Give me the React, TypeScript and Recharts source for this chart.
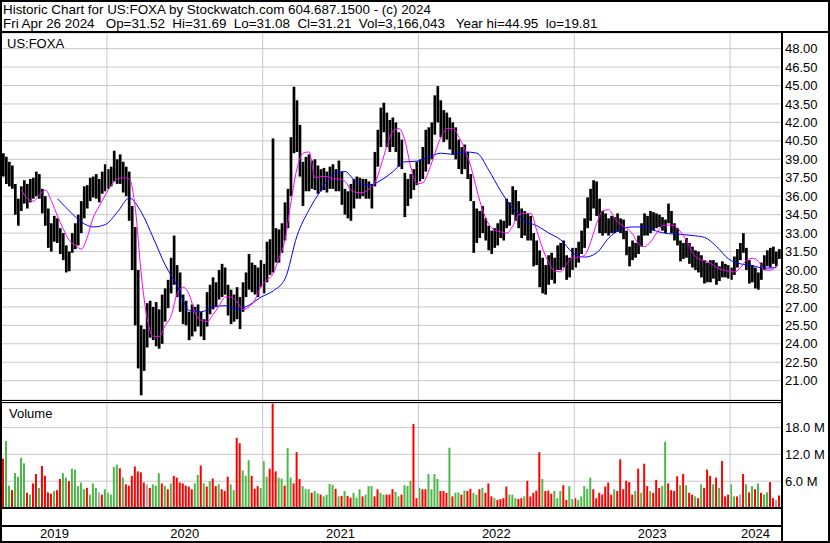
import {
  Bar,
  CartesianGrid,
  Cell,
  ComposedChart,
  Line,
  ReferenceLine,
  XAxis,
  YAxis,
} from "recharts";

// One row per trading week (weekly high / low).
const yearLabels = ["2019", "2020", "2021", "2022", "2023", "2024"];
const yearStarts = [0, 35, 87, 139, 191, 243];
const WEEKS = 260;

const high2019 = [39.5, 39.2, 38.8, 38.5, 37.0, 35.8, 36.8, 37.3, 37.0, 37.4, 37.5, 38.0, 37.8, 36.6, 36.0, 35.0, 33.8, 34.4, 34.2, 33.4, 33.0, 32.0, 31.5, 33.0, 33.8, 34.5, 35.6, 36.8, 36.9, 37.5, 37.6, 37.8, 37.4, 38.0, 38.6];
const low2019 = [37.6, 37.0, 36.8, 36.6, 34.5, 33.6, 34.8, 35.4, 35.0, 35.5, 35.8, 36.0, 35.8, 34.6, 33.6, 31.8, 31.5, 32.3, 32.2, 31.3, 30.8, 29.8, 29.9, 31.4, 31.7, 32.0, 33.0, 34.2, 35.0, 35.6, 35.9, 35.8, 35.5, 36.2, 36.4];
const high2020 = [38.2, 38.4, 39.7, 39.0, 39.4, 38.8, 38.4, 38.0, 35.2, 33.5, 30.0, 25.5, 25.2, 27.3, 27.5, 27.0, 27.4, 26.8, 28.0, 28.5, 29.2, 31.0, 32.8, 30.4, 29.8, 28.0, 27.5, 26.6, 27.2, 27.0, 27.2, 26.6, 26.0, 28.2, 28.8, 29.4, 29.0, 30.0, 30.5, 30.2, 28.8, 28.4, 28.0, 28.6, 27.8, 29.0, 29.8, 31.3, 30.6, 30.4, 30.2, 30.8];
const low2020 = [36.6, 36.8, 37.2, 37.0, 37.0, 36.3, 36.0, 34.0, 30.0, 25.5, 22.0, 19.81, 21.8, 23.7, 24.5, 24.3, 23.8, 23.6, 24.0, 25.8, 26.9, 28.1, 28.8, 27.8, 26.6, 25.6, 25.5, 24.3, 24.6, 25.0, 25.4, 24.6, 24.3, 25.4, 26.4, 26.8, 27.0, 27.6, 27.8, 28.0, 26.3, 25.6, 25.8, 26.0, 25.2, 26.6, 27.8, 28.4, 28.2, 28.0, 27.8, 28.6];
const high2021 = [30.5, 32.3, 32.5, 40.7, 33.4, 33.3, 33.8, 35.5, 36.6, 40.8, 44.9, 43.8, 41.8, 38.8, 39.2, 39.4, 38.9, 39.0, 38.5, 38.2, 38.3, 38.0, 38.4, 38.6, 38.2, 38.9, 38.0, 36.6, 36.4, 37.0, 37.4, 37.6, 37.5, 37.4, 37.4, 37.2, 37.0, 39.6, 41.4, 43.2, 43.6, 42.8, 42.2, 42.4, 42.0, 41.2, 40.6, 37.9, 37.4, 37.8, 38.2, 38.8];
const low2021 = [28.1, 29.0, 29.6, 29.8, 30.6, 30.6, 31.4, 32.4, 33.4, 36.0, 39.5, 39.6, 37.6, 35.2, 36.4, 36.4, 36.6, 36.5, 36.2, 36.4, 36.5, 36.3, 36.6, 36.6, 36.4, 36.4, 35.3, 34.5, 34.2, 34.0, 35.0, 35.8, 35.8, 36.0, 35.8, 35.8, 35.0, 36.8, 38.4, 40.0, 41.2, 40.0, 39.6, 40.0, 39.6, 38.4, 38.2, 34.3, 35.2, 35.8, 36.5, 36.9];
const high2022 = [39.0, 40.0, 41.4, 41.6, 42.0, 44.2, 44.95, 43.8, 43.0, 42.8, 42.4, 42.0, 41.6, 40.6, 40.0, 40.2, 39.6, 37.8, 35.6, 35.0, 34.8, 35.2, 34.2, 33.6, 33.2, 33.4, 33.8, 34.1, 34.0, 35.8, 35.5, 36.8, 36.5, 35.6, 35.0, 34.8, 34.6, 34.4, 33.0, 32.4, 31.6, 31.0, 30.4, 31.2, 31.4, 31.0, 32.0, 32.2, 32.4, 31.2, 31.0, 31.8];
const low2022 = [37.2, 37.4, 38.0, 38.6, 39.0, 41.0, 42.0, 40.8, 40.4, 40.6, 39.8, 39.4, 39.0, 38.2, 37.8, 38.2, 37.4, 35.6, 31.4, 32.2, 32.6, 33.0, 32.4, 31.6, 31.3, 31.8, 32.0, 32.6, 32.4, 33.4, 33.6, 34.5, 34.0, 33.4, 32.6, 32.8, 32.4, 32.4, 30.3, 30.4, 28.6, 28.1, 28.0, 28.8, 29.2, 28.9, 30.0, 30.0, 30.2, 29.2, 29.4, 30.0];
const high2023 = [31.8, 32.3, 33.2, 34.2, 35.9, 36.6, 37.3, 37.2, 35.8, 34.8, 34.6, 34.2, 34.4, 34.3, 34.6, 34.2, 34.1, 33.2, 31.9, 32.4, 32.2, 32.8, 33.8, 34.6, 34.4, 34.8, 34.7, 34.6, 34.5, 34.3, 34.1, 35.4, 34.8, 33.8, 33.4, 32.4, 32.2, 32.6, 32.2, 31.9, 31.6, 31.5, 31.2, 30.8, 30.6, 30.8, 30.8, 30.6, 30.3, 30.7, 30.5, 30.4];
const low2023 = [30.2, 30.6, 31.3, 31.8, 33.4, 34.0, 35.0, 34.4, 33.0, 32.8, 33.0, 32.8, 33.0, 33.0, 33.1, 33.0, 32.5, 31.2, 30.3, 30.8, 31.0, 31.3, 31.9, 32.8, 32.8, 33.0, 33.2, 33.4, 33.5, 33.2, 33.0, 33.8, 33.0, 32.4, 32.0, 30.7, 30.9, 31.0, 30.5, 30.2, 30.0, 29.8, 29.4, 28.9, 29.0, 29.0, 29.3, 28.8, 29.1, 29.4, 29.4, 29.3];
const high2024 = [30.2, 31.1, 31.7, 32.2, 33.0, 31.8, 30.8, 30.4, 30.2, 29.8, 30.6, 31.2, 31.6, 31.8, 31.9, 31.5, 31.7];
const low2024 = [29.2, 29.6, 30.2, 30.8, 31.4, 30.0, 28.9, 29.0, 28.5, 28.4, 29.2, 30.0, 30.3, 30.2, 30.5, 30.3, 30.9];

// magenta average, every 2nd week from week 6; blue average, every 4th week from week 18
const fastFrom = 6;
const fastAvg = [
  36.5, 35.8, 35.6, 36.1, 36.5, 35.6, 34.4, 33.3, 32.4, 32.0,
  31.7, 32.7, 34.3, 35.2, 36.1, 36.9, 37.4, 37.5, 37.4, 35.0,
  29.6, 26.0, 24.6, 24.6, 25.5, 26.3, 28.1, 28.6, 28.0, 26.5,
  25.9, 25.8, 26.4, 27.1, 27.8, 27.8, 27.4, 26.8, 27.0, 27.6,
  28.7, 29.2, 29.7, 31.0, 32.5, 35.6, 38.3, 39.5, 39.6, 37.5,
  37.6, 37.6, 37.4, 37.4, 37.2, 36.5, 36.3, 36.3, 36.6, 37.1,
  38.5, 40.1, 41.3, 41.5, 40.5, 38.3, 37.0, 37.1, 38.1, 39.5,
  40.8, 41.5, 41.5, 40.8, 39.8, 38.4, 36.5, 34.8, 33.7, 33.25,
  33.1, 33.0, 33.6, 34.5, 34.6, 34.6, 33.2, 31.7, 30.6, 29.9,
  29.85, 30.5, 31.0, 31.05, 31.2, 32.3, 33.8, 34.8, 34.9, 34.2,
  33.7, 33.4, 32.9, 32.1, 31.9, 32.3, 33.0, 33.6, 33.65, 33.6,
  33.1, 32.4, 31.4, 30.9, 30.75, 30.55, 30.2, 30.0, 29.9, 29.85,
  30.2, 30.8, 30.95, 30.7, 30.0, 30.0, 30.35,
];
const slowFrom = 18;
const slowAvg = [
  35.8, 34.8, 33.9, 33.5, 33.7, 34.7, 35.85, 34.7, 32.6, 30.4,
  28.7, 26.7, 26.6, 27.0, 27.1, 26.8, 27.15, 27.8, 28.3, 29.3,
  32.8, 34.9, 36.5, 37.8, 38.0, 37.1, 36.9, 37.3, 38.0, 38.8,
  38.85, 39.2, 39.5, 39.4, 39.6, 39.5, 38.1, 36.4, 35.0, 34.0,
  33.6, 33.0, 32.45, 31.4, 31.05, 31.4, 32.6, 33.3, 33.5, 33.5,
  33.15, 32.95, 32.9, 32.8, 32.65, 31.9, 30.9, 30.5, 30.35, 30.15,
  30.2,
];

// volume in millions; r = down, g = up, x = unchanged
const vol2019 = [11.0, 15.0, 5.0, 4.0, 7.8, 7.0, 11.2, 10.0, 3.4, 3.0, 5.5, 7.6, 4.5, 9.4, 7.2, 3.5, 3.2, 3.8, 4.0, 6.5, 7.8, 6.8, 6.0, 8.8, 8.6, 4.9, 5.7, 4.2, 4.5, 3.0, 5.5, 4.5, 3.5, 3.0, 4.2];
const vol2020 = [3.4, 3.0, 9.2, 9.7, 8.9, 6.8, 5.3, 5.0, 7.2, 9.3, 8.2, 8.0, 5.7, 5.3, 4.5, 5.3, 5.0, 7.8, 5.5, 5.0, 4.2, 5.5, 7.2, 6.8, 5.7, 5.5, 5.0, 4.8, 4.2, 5.5, 7.4, 9.5, 5.5, 4.8, 6.0, 6.6, 4.9, 5.3, 4.2, 3.8, 7.0, 5.3, 4.0, 15.7, 14.5, 8.4, 7.2, 10.7, 7.2, 4.3, 4.9, 4.5];
const vol2021 = [10.5, 7.0, 8.8, 23.4, 8.2, 6.8, 6.6, 5.0, 13.4, 6.8, 5.5, 12.5, 6.5, 4.9, 4.2, 4.2, 3.4, 3.8, 3.3, 3.0, 2.6, 3.0, 5.4, 5.2, 4.3, 2.6, 2.7, 3.8, 2.7, 2.3, 3.4, 2.3, 4.2, 2.6, 3.0, 4.9, 4.9, 2.6, 4.2, 3.4, 3.0, 3.0, 3.0, 4.2, 3.6, 2.6, 3.0, 5.1, 4.9, 6.1, 18.8, 2.2];
const vol2022 = [4.5, 4.2, 4.2, 7.6, 4.2, 7.6, 6.5, 3.8, 3.8, 3.4, 13.5, 2.6, 3.4, 3.5, 3.0, 3.9, 3.8, 4.3, 3.4, 3.0, 4.2, 4.5, 3.4, 5.5, 2.6, 2.2, 1.8, 2.0, 2.2, 4.8, 3.0, 3.0, 2.2, 2.0, 2.2, 2.6, 6.1, 2.6, 3.4, 3.9, 12.5, 6.5, 3.8, 3.9, 3.2, 3.8, 2.2, 3.8, 5.1, 1.8, 4.9, 2.0];
const vol2023 = [2.2, 1.8, 2.6, 4.9, 4.3, 6.8, 4.2, 2.2, 3.4, 3.0, 4.8, 5.7, 3.0, 4.2, 3.8, 10.9, 4.2, 6.1, 5.8, 3.0, 3.8, 8.8, 3.4, 9.9, 4.9, 3.8, 3.4, 6.3, 4.5, 4.9, 14.8, 5.5, 4.0, 3.8, 7.1, 5.1, 7.6, 5.1, 3.4, 3.0, 2.6, 2.2, 5.3, 4.5, 8.6, 7.2, 5.3, 6.8, 4.5, 10.5, 2.6, 3.0];
const vol2024 = [5.3, 2.6, 2.6, 3.0, 7.6, 5.3, 3.5, 4.9, 4.2, 5.5, 3.4, 3.0, 3.5, 5.8, 2.2, 1.8, 2.8];
const volDir = [
  "rggrggggrgrrgrrrrgrrggrgggggrgggxrg",
  "ggggrgrrrrrrrxrgggrgrgrrrrrrrggrgrgrrgrrrggrrgggrrrg",
  "ggrrrggrggrrrgggrggrggggrgrgrrgggrgggrrggrrrggrgggrr",
  "grrggggrrrgrggrgrrggrgrrrgrrrrgggrrgrrrrrgrrrgggrrgg",
  "rgggggrrrrrrrgrrrrrrgrgrrgrrrggrrrrgrgrrgrgrrrgrgrrr",
  "ggrxrgrgrgrggrrxr",
];

const priceTicks = [21, 22.5, 24, 25.5, 27, 28.5, 30, 31.5, 33, 34.5, 36, 37.5, 39, 40.5, 42, 43.5, 45, 46.5, 48];
const volumeTicks = [6, 12, 18];

const weekHigh = [...high2019, ...high2020, ...high2021, ...high2022, ...high2023, ...high2024];
const weekLow = [...low2019, ...low2020, ...low2021, ...low2022, ...low2023, ...low2024];
const weekVol = [...vol2019, ...vol2020, ...vol2021, ...vol2022, ...vol2023, ...vol2024];
const dirs = volDir.join("").split("");

const rows = weekHigh.map((hi, i) => ({
  i,
  range: [weekLow[i], hi],
  fast: i >= fastFrom && (i - fastFrom) % 2 === 0 ? fastAvg[(i - fastFrom) / 2] ?? null : null,
  slow: i >= slowFrom && (i - slowFrom) % 4 === 0 ? slowAvg[(i - slowFrom) / 4] ?? null : null,
  vol: weekVol[i],
  dir: dirs[i],
}));

const yearBounds = yearStarts.slice(1).map((s) => s - 0.5);
const yearMids = yearStarts.map((s, k) => (s + (yearStarts[k + 1] ?? WEEKS) - 1) / 2);

const FONT = "'Liberation Sans', Arial, sans-serif";
const GRID = "#c8c8c8";
const dirColor: Record<string, string> = { r: "#ff0000", g: "#4cb848", x: "#a8a8a8" };
const xDomain = [-0.5, WEEKS - 0.5];

export default function App() {
  return (
    <div
      style={{
        position: "absolute",
        left: 0,
        top: 0,
        width: 830,
        height: 543,
        background: "#fff",
        fontFamily: FONT,
        overflow: "hidden",
      }}
    >
      <div style={{ position: "absolute", left: 0, top: 33 }}>
        <ComposedChart width={830} height={367} data={rows} margin={{ top: 0, right: 0, bottom: 0, left: 2 }}>
          <CartesianGrid stroke={GRID} vertical={false} />
          <XAxis type="number" dataKey="i" domain={xDomain} allowDataOverflow hide />
          <YAxis
            orientation="right"
            width={49}
            domain={[19.43, 49.27]}
            allowDataOverflow
            ticks={priceTicks}
            interval={0}
            tickFormatter={(v: number) => v.toFixed(2)}
            axisLine={false}
            tickLine={false}
            tickSize={0}
            tickMargin={4}
            tick={{ fill: "#000", fontSize: 13, fontFamily: FONT }}
          />
          {yearBounds.map((b) => (
            <ReferenceLine key={b} x={b} stroke={GRID} />
          ))}
          <Bar dataKey="range" fill="#000" barSize={3} isAnimationActive={false} />
          <Line type="monotone" dataKey="slow" stroke="#0000ff" strokeWidth={1} dot={false} connectNulls isAnimationActive={false} />
          <Line type="monotone" dataKey="fast" stroke="#ff00ff" strokeWidth={1} dot={false} connectNulls isAnimationActive={false} />
        </ComposedChart>
      </div>

      <div style={{ position: "absolute", left: 0, top: 403 }}>
        <ComposedChart width={830} height={138} data={rows} margin={{ top: 0, right: 0, bottom: 0, left: 2 }}>
          <CartesianGrid stroke={GRID} vertical={false} xAxisId="b" />
          <XAxis
            xAxisId="b"
            type="number"
            dataKey="i"
            domain={xDomain}
            allowDataOverflow
            ticks={yearBounds}
            interval={0}
            tick={false}
            tickSize={18}
            tickLine={{ stroke: "#000" }}
            axisLine={{ stroke: "#000", strokeWidth: 2 }}
            height={18}
          />
          <XAxis
            xAxisId="y"
            type="number"
            dataKey="i"
            domain={xDomain}
            allowDataOverflow
            ticks={yearMids}
            interval={0}
            tickFormatter={(v: number) => yearLabels[yearMids.indexOf(v)] ?? ""}
            tickLine={false}
            tickSize={0}
            tickMargin={3}
            axisLine={{ stroke: "#000", strokeWidth: 2 }}
            tick={{ fill: "#000", fontSize: 13, fontFamily: FONT }}
            height={15}
          />
          <YAxis
            orientation="right"
            width={49}
            domain={[0, 23.5]}
            allowDataOverflow
            ticks={volumeTicks}
            interval={0}
            tickFormatter={(v: number) => `${v.toFixed(1)} M`}
            axisLine={false}
            tickLine={false}
            tickSize={0}
            tickMargin={4}
            tick={{ fill: "#000", fontSize: 13, fontFamily: FONT }}
          />
          {yearBounds.map((b) => (
            <ReferenceLine key={b} x={b} xAxisId="b" stroke={GRID} />
          ))}
          <Bar dataKey="vol" xAxisId="b" barSize={2} isAnimationActive={false}>
            {rows.map((r) => (
              <Cell key={r.i} fill={dirColor[r.dir] ?? "#a8a8a8"} />
            ))}
          </Bar>
        </ComposedChart>
      </div>

      <svg
        width={830}
        height={543}
        style={{ position: "absolute", left: 0, top: 0, pointerEvents: "none" }}
        fontFamily={FONT}
      >
        <text x={3} y={14} fontSize={13.4} fill="#000" style={{ whiteSpace: "pre" }}>
          Historic Chart for US:FOXA by Stockwatch.com 604.687.1500 - (c) 2024
        </text>
        <text x={3} y={28} fontSize={13.4} fill="#000" style={{ whiteSpace: "pre" }}>
          {"Fri Apr 26 2024   Op=31.52  Hi=31.69  Lo=31.08  Cl=31.21  Vol=3,166,043   Year hi=44.95  lo=19.81"}
        </text>
        <text x={7} y={48} fontSize={13} fill="#000">US:FOXA</text>
        <text x={9} y={418} fontSize={13} fill="#000">Volume</text>
        <line x1={0} y1={32} x2={830} y2={32} stroke="#000" strokeWidth={2} />
        <line x1={0} y1={400.5} x2={782} y2={400.5} stroke="#000" strokeWidth={1} />
        <line x1={0} y1={402.5} x2={782} y2={402.5} stroke="#000" strokeWidth={1} />
        <line x1={782} y1={32} x2={782} y2={543} stroke="#000" strokeWidth={2} />
        <rect x={1} y={1} width={828} height={541} fill="none" stroke="#000" strokeWidth={2} />
      </svg>
    </div>
  );
}
